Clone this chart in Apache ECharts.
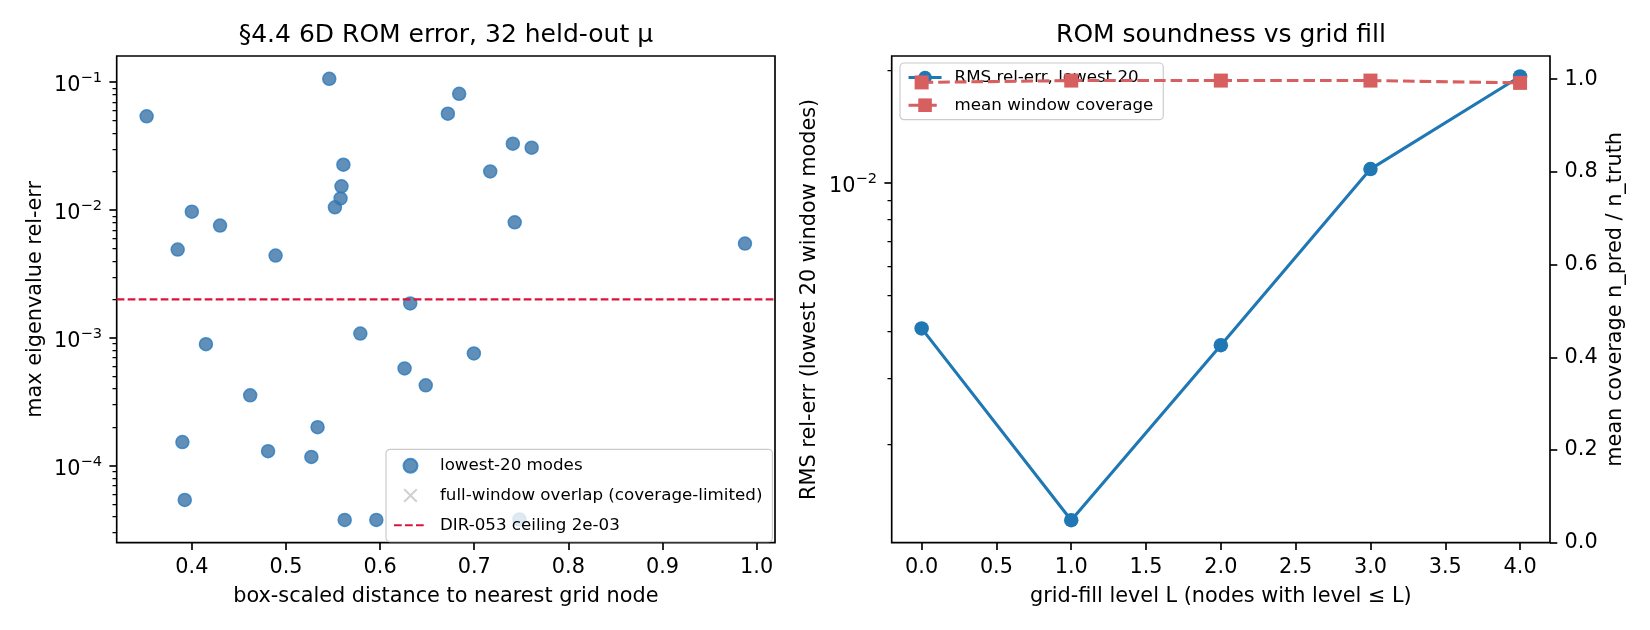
<!DOCTYPE html>
<html>
<head>
<meta charset="utf-8">
<script src="https://cdn.jsdelivr.net/npm/echarts@6.0.0/dist/echarts.min.js"></script>
<style>
  html, body { margin: 0; padding: 0; background: #fff; }
  #chart { width: 1650px; height: 630px; }
</style>
</head>
<body>
<div id="chart"></div>
<script>
// left panel: ROM error of the 32 held-out points
const distance = [0.352, 0.546, 0.672, 0.561, 0.559, 0.558, 0.552, 0.400, 0.430, 0.385, 0.489,
                  0.684, 0.741, 0.761, 0.717, 0.743, 0.9876, 0.632, 0.415, 0.579, 0.626, 0.6485,
                  0.462, 0.5336, 0.390, 0.481, 0.527, 0.3925, 0.5624, 0.596, 0.6996, 0.748];
const lowest20Err = [0.054, 0.106, 0.0566, 0.0226, 0.0153, 0.0123, 0.0105, 0.0097, 0.00755, 0.0049, 0.0044,
                     0.081, 0.033, 0.0307, 0.020, 0.0080, 0.00546, 0.00186, 0.000893, 0.00108, 0.000577, 0.000425,
                     0.000355, 0.000200, 0.000153, 0.000130, 0.000117, 0.000054, 0.0000377, 0.0000377, 0.000755, 0.000038];
const fullWindowErr = [];   // nothing plotted for this series
const ceiling = 2e-3;
const distRange = [0.3202, 1.0195];
const errRange = [2.5e-5, 0.16];
const distTicks = [0.4, 0.5, 0.6, 0.7, 0.8, 0.9, 1.0];
const errMajorTicks = [1e-4, 1e-3, 1e-2, 1e-1];

// right panel: soundness vs grid fill
const fillLevels = [0, 1, 2, 3, 4];
const rmsErr = [0.00408, 0.00125, 0.00368, 0.0109, 0.0193];
const coverage = [0.993, 0.997, 0.997, 0.997, 0.992];
const rmsRange = [1.088e-3, 0.0219];
const levelTicks = [0, 0.5, 1, 1.5, 2, 2.5, 3, 3.5, 4];
const coverageTicks = [0, 0.2, 0.4, 0.6, 0.8, 1.0];
const rmsMajorTicks = [1e-2];

const FONT = 'DejaVu Sans';
const TICK_FS = 20.8;

function minorLogTicks(lo, hi) {
    const out = [];
    for (let e = -6; e <= 0; e++) {
        for (let m = 2; m <= 9; m++) {
            const v = m * Math.pow(10, e);
            if (v >= lo && v <= hi) out.push(v);
        }
    }
    return out;
}

const tickLine = { color: '#000', width: 1.67 };
const minorLine = { color: '#000', width: 1.25 };

const logLabel = ticks => ({
    customValues: ticks,
    margin: 14.6,
    padding: [8, 0, 0, 0],
    formatter: v => '{b|10}{s|\u2212' + Math.round(-Math.log10(v)) + '}',
    rich: {
        b: { fontSize: TICK_FS, fontFamily: FONT, color: '#000', lineHeight: 30 },
        s: { fontSize: 14.6, fontFamily: FONT, color: '#000', lineHeight: 16, verticalAlign: 'top' }
    }
});

const plainLabel = ticks => ({
    customValues: ticks,
    margin: 14.6,
    fontSize: TICK_FS,
    fontFamily: FONT,
    color: '#000',
    formatter: v => v.toFixed(1)
});

const axisName = { fontSize: TICK_FS, fontFamily: FONT, color: '#000' };

const X_ICON = 'path://M1,0 L5,4 L9,0 L10,1 L6,5 L10,9 L9,10 L5,6 L1,10 L0,9 L4,5 L0,1 Z';
const CEIL_STYLE = { color: '#dc143c', width: 2.08, type: [7.7, 3.3] };

const chart = echarts.init(document.getElementById('chart'), null, { renderer: 'canvas' });

chart.setOption({
    animation: false,
    backgroundColor: '#fff',
    textStyle: { fontFamily: FONT },
    graphic: [
        { type: 'text', x: 445.9, y: 35, style: { text: '\u00a74.4 6D ROM error, 32 held-out \u03bc', fontSize: 25, fontFamily: FONT, fill: '#000', align: 'center', verticalAlign: 'middle' } },
        { type: 'text', x: 1221, y: 35, style: { text: 'ROM soundness vs grid fill', fontSize: 25, fontFamily: FONT, fill: '#000', align: 'center', verticalAlign: 'middle' } }
    ],
    grid: [
        { left: 116.7, top: 56, width: 658.3, height: 486.7, show: true, borderColor: '#000', borderWidth: 1.67, backgroundColor: 'transparent' },
        { left: 891.7, top: 56, width: 658.3, height: 486.7, show: true, borderColor: '#000', borderWidth: 1.67, backgroundColor: 'transparent' }
    ],
    legend: [
        {
            data: ['lowest-20 modes', 'full-window overlap (coverage-limited)',
                   { name: 'DIR-053 ceiling 2e-03', itemStyle: { opacity: 0 } }],
            orient: 'vertical', left: 386, top: 449.3,
            itemWidth: 33, itemHeight: 14, itemGap: 12.7,
            padding: [8, 10, 8, 7],
            backgroundColor: 'rgba(255,255,255,0.8)', borderColor: '#cccccc', borderWidth: 1.2, borderRadius: 4,
            textStyle: { fontSize: 16.7, fontFamily: FONT, color: '#000', padding: [0, 0, 0, 8] },
            selectedMode: false, z: 4
        },
        {
            data: ['RMS rel-err, lowest 20', 'mean window coverage'],
            orient: 'vertical', left: 900, top: 63,
            itemWidth: 33, itemHeight: 17, itemGap: 10.7,
            padding: [6, 10, 6, 7],
            backgroundColor: 'rgba(255,255,255,0.8)', borderColor: '#cccccc', borderWidth: 1.2, borderRadius: 4,
            textStyle: { fontSize: 16.7, fontFamily: FONT, color: '#000', padding: [0, 0, 0, 8] },
            lineStyle: { width: 3.1 },
            selectedMode: false, z: 3
        }
    ],
    xAxis: [
        {
            gridIndex: 0, type: 'value', position: 'bottom', min: distRange[0], max: distRange[1],
            axisLine: { show: false }, splitLine: { show: false },
            axisTick: { customValues: distTicks, length: 7.3, lineStyle: tickLine },
            axisLabel: plainLabel(distTicks),
            name: 'box-scaled distance to nearest grid node', nameLocation: 'middle', nameGap: 43, nameTextStyle: axisName
        },
        {
            gridIndex: 1, type: 'value', position: 'bottom', min: -0.2, max: 4.2,
            axisLine: { show: false }, splitLine: { show: false },
            axisTick: { customValues: levelTicks, length: 7.3, lineStyle: tickLine },
            axisLabel: plainLabel(levelTicks),
            name: 'grid-fill level L (nodes with level \u2264 L)', nameLocation: 'middle', nameGap: 43, nameTextStyle: axisName
        }
    ],
    yAxis: [
        {
            gridIndex: 0, type: 'log', logBase: 10, position: 'left', offset: 0, min: errRange[0], max: errRange[1],
            axisLine: { show: false, onZero: false }, splitLine: { show: false }, minorTick: { show: false },
            axisTick: { customValues: errMajorTicks, length: 7.3, lineStyle: tickLine },
            axisLabel: logLabel(errMajorTicks),
            name: 'max eigenvalue rel-err', nameLocation: 'middle', nameRotate: 90, nameGap: 71, nameTextStyle: axisName
        },
        {
            gridIndex: 0, type: 'log', logBase: 10, position: 'left', offset: 0, min: errRange[0], max: errRange[1],
            axisLine: { show: false, onZero: false }, splitLine: { show: false }, minorTick: { show: false },
            axisTick: { customValues: minorLogTicks(errRange[0], errRange[1]), length: 4.2, lineStyle: minorLine },
            axisLabel: { show: false }
        },
        {
            gridIndex: 1, type: 'log', logBase: 10, position: 'left', offset: 0, min: rmsRange[0], max: rmsRange[1],
            axisLine: { show: false, onZero: false }, splitLine: { show: false }, minorTick: { show: false },
            axisTick: { customValues: rmsMajorTicks, length: 7.3, lineStyle: tickLine },
            axisLabel: logLabel(rmsMajorTicks),
            name: 'RMS rel-err (lowest 20 window modes)', nameLocation: 'middle', nameRotate: 90, nameGap: 72, nameTextStyle: axisName
        },
        {
            gridIndex: 1, type: 'log', logBase: 10, position: 'left', offset: 0, min: rmsRange[0], max: rmsRange[1],
            axisLine: { show: false, onZero: false }, splitLine: { show: false }, minorTick: { show: false },
            axisTick: { customValues: minorLogTicks(rmsRange[0], rmsRange[1]), length: 4.2, lineStyle: minorLine },
            axisLabel: { show: false }
        },
        {
            gridIndex: 1, type: 'value', position: 'right', offset: 0, min: 0, max: 1.05,
            axisLine: { show: false, onZero: false }, splitLine: { show: false },
            axisTick: { customValues: coverageTicks, length: 7.3, lineStyle: tickLine },
            axisLabel: plainLabel(coverageTicks),
            name: 'mean coverage n_pred / n_truth', nameLocation: 'middle', nameRotate: 90, nameGap: 55, nameTextStyle: axisName
        }
    ],
    series: [
        {
            name: 'DIR-053 ceiling 2e-03', type: 'line', xAxisIndex: 0, yAxisIndex: 0,
            // horizontal reference line across the full x range of the panel
            data: distRange.map(d => [d, ceiling]),
            symbol: 'none', silent: true,
            itemStyle: { color: '#dc143c' },
            lineStyle: CEIL_STYLE,
            z: 3
        },
        {
            name: 'lowest-20 modes', type: 'scatter', xAxisIndex: 0, yAxisIndex: 0,
            data: distance.map((d, i) => [d, lowest20Err[i]]),
            symbol: 'circle', symbolSize: 13,
            itemStyle: { color: '#3a73a5', borderColor: '#2a7cbf', borderWidth: 1.5 },
            z: 2
        },
        {
            name: 'full-window overlap (coverage-limited)', type: 'scatter', xAxisIndex: 0, yAxisIndex: 0,
            data: fullWindowErr,
            symbol: X_ICON, symbolSize: 10, symbolKeepAspect: true,
            itemStyle: { color: '#c4c4c4' },
            z: 1
        },
        {
            name: 'RMS rel-err, lowest 20', type: 'line', xAxisIndex: 1, yAxisIndex: 2,
            data: fillLevels.map((l, i) => [l, rmsErr[i]]),
            symbol: 'circle', symbolSize: 14.5,
            itemStyle: { color: '#1f77b4' },
            lineStyle: { color: '#1f77b4', width: 3.1 },
            z: 2
        },
        {
            name: 'mean window coverage', type: 'line', xAxisIndex: 1, yAxisIndex: 4,
            data: fillLevels.map((l, i) => [l, coverage[i]]),
            symbol: 'rect', symbolSize: 14,
            itemStyle: { color: '#d75f5f' },
            lineStyle: { color: '#d75f5f', width: 3.1, type: [11.6, 5] },
            z: 5
        }
    ]
});
</script>
</body>
</html>
